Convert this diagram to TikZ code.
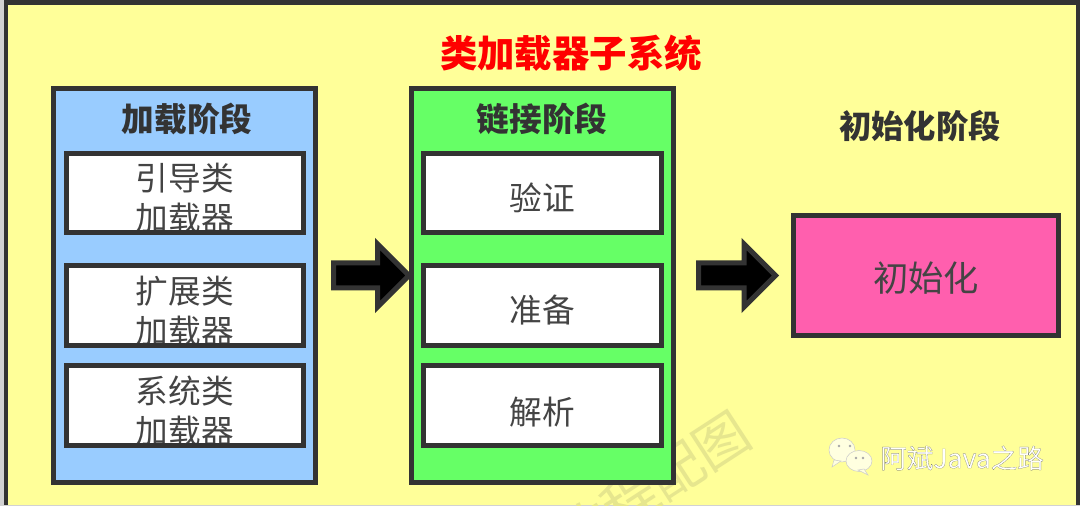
\documentclass[tikz,border=0pt]{standalone}
\usepackage{fontspec}
\setmainfont{Noto Sans CJK SC}
\newfontfamily\markfont[FakeBold=0.4]{Noto Sans CJK SC}
\usepackage{tikz}
\usetikzlibrary{shapes.arrows}
\definecolor{framecol}{HTML}{333333}
\definecolor{textcol}{HTML}{444444}
\definecolor{sheetcol}{HTML}{FFFF99}
\definecolor{loadcol}{HTML}{99CCFF}
\definecolor{linkcol}{HTML}{66FF66}
\definecolor{initcol}{HTML}{FF5FAE}
\definecolor{stampcol}{HTML}{E6E68E}
\tikzset{
  panel/.style={draw=framecol, line width=0.1cm, outer sep=0pt, inner sep=0pt,
    minimum width=5.25cm, minimum height=7.89cm},
  stagebox/.style={draw=framecol, fill=white, line width=0.1cm, outer sep=0pt,
    inner sep=0pt, minimum width=4.75cm, minimum height=1.6cm},
  frameline/.style={draw=framecol, line width=0.1cm},
  bodytext/.style={text=textcol, align=center, inner sep=0pt,
    font=\fontsize{18.6}{22.7}\selectfont},
  headtext/.style={text=framecol, inner sep=0pt,
    font=\bfseries\fontsize{18.6}{22}\selectfont},
  blockarrow/.style={single arrow, draw=framecol, fill=black, line width=0.1cm,
    outer sep=0pt, inner xsep=0pt, inner ysep=0.2cm, minimum width=1.16cm,
    single arrow head extend=0.38cm, single arrow tip angle=90, anchor=tip},
  bubble/.style={fill=white!70!sheetcol, draw=white!60!gray, line width=0.3pt}
}

\begin{document}
\begin{tikzpicture}[x=0.02cm, y=-0.02cm]

\useasboundingbox (0,0) rectangle (1080,506);
\clip (0,0) rectangle (1080,506);

% Sheet
\fill[gray!35] (0,0) rectangle (1080,506);
\fill[sheetcol] (6,3) rectangle (1078,505);
\draw[frameline] (6,505) -- (6,3) -- (1078,3) -- (1078,505);

% Stamp
\node[text=stampcol, rotate=33, inner sep=0pt,
  font=\fontsize{31}{31}\selectfont] (stamp) at (653,485) {教程配图};

\node[text=red, inner sep=0pt, font=\bfseries\fontsize{21.3}{25}\selectfont]
  (title) at (571,53) {类加载器子系统};

% ---------- Loading ----------
\node[panel, fill=loadcol] (loadpanel) at (184.75,285.75) {};
\node[headtext] (loadhead) at (187,119) {加载阶段};

\foreach \name/\y/\first in {
  bootbox/193/引导类, extbox/305.5/扩展类, appbox/405.5/系统类
}{
  \node[stagebox] (\name) at (185,\y) {};
  \node[bodytext] (\name text) at (185,\y+5.5) {\first\\加载器};
  \draw[frameline] (\name.north west) rectangle (\name.south east);
}

% ---------- Linking ----------
\node[panel, fill=linkcol] (linkpanel) at (542.5,285.75) {};
\node[headtext] (linkhead) at (542,119) {链接阶段};

\foreach \name/\y/\word/\tx/\ty in {
  verifybox/193/验证/542/197.5, preparebox/305.5/准备/542/310.5,
  resolvebox/405.5/解析/542/412.5
}{
  \node[stagebox] (\name) at (542.5,\y) {};
  \node[bodytext] at (\tx,\ty) {\word};
}

% ---------- Initialising ----------
\node[headtext, font=\bfseries\fontsize{18.4}{22}\selectfont]
  (inithead) at (920,126) {初始化阶段};
\node[draw=framecol, fill=initcol, line width=0.1cm, outer sep=0pt, inner sep=0pt,
  minimum width=5.3cm, minimum height=2.4cm] (initbox) at (926,275.5) {};
\node[text=textcol, inner sep=0pt, font=\fontsize{20.1}{24}\selectfont]
  (inittext) at (926,278) {初始化};

% Arrows
\node[blockarrow, minimum height=1.51cm] (loadarrow) at (409,275.5) {};
\node[blockarrow, minimum height=1.54cm] (linkarrow) at (775.5,275.5) {};

% ---------- Mark ----------
\fill[bubble] (842,450) ellipse [x radius=13, y radius=12];
\fill[bubble] (834,460) -- (832,467) -- (841,461) -- cycle;
\draw[bubble] (859,461) ellipse [x radius=13, y radius=10.5];
\fill[bubble] (864,469) -- (868,475) -- (858,470) -- cycle;
\foreach \x/\y in {839/446, 850/446, 856/458, 863/458}{
  \fill[gray!70] (\x,\y) circle (1.4);
}
\node[inner sep=0pt, anchor=west, font=\markfont\fontsize{15.1}{18}\selectfont]
  (marktext) at (880,458) {\special{pdf:bcolor [1 1 1] [0.35]}阿斌Java之路\special{pdf:ecolor}};

\end{tikzpicture}
\end{document}
